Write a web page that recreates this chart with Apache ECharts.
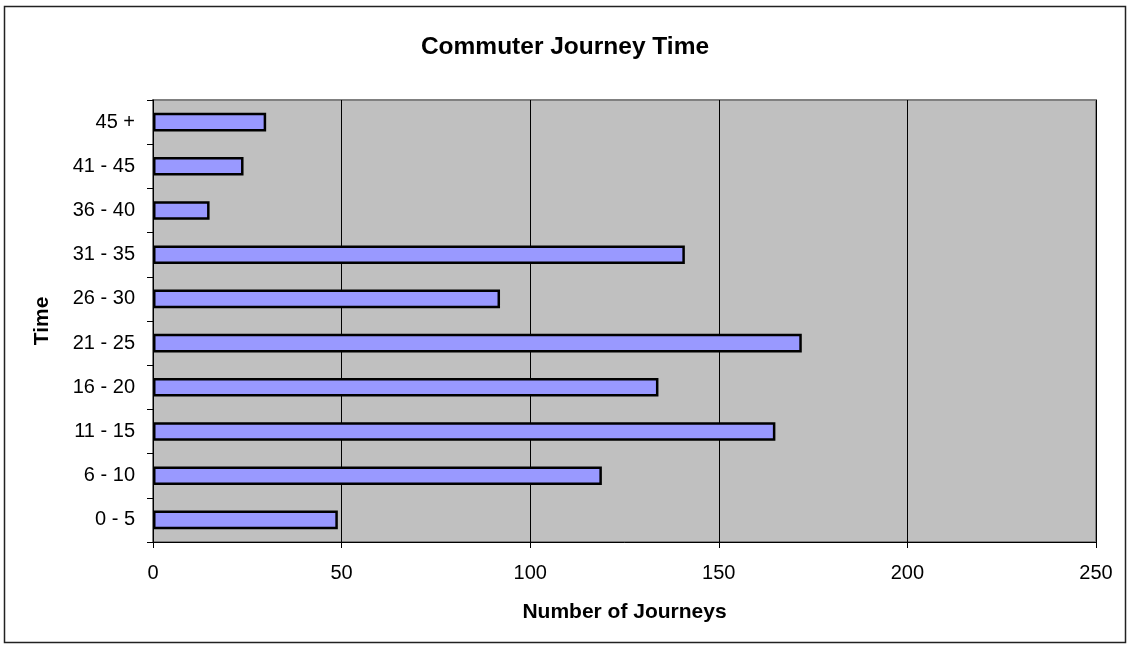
<!DOCTYPE html>
<html>
<head>
<meta charset="utf-8">
<script src="https://cdn.jsdelivr.net/npm/echarts@6/dist/echarts.min.js"></script>
<style>
html, body { margin: 0; padding: 0; background: #fff; }
#chart { width: 1130px; height: 648px; }
</style>
</head>
<body>
<div id="chart"></div>
<script>
// journey time bands, bottom to top
const timeBands = ['0 - 5', '6 - 10', '11 - 15', '16 - 20', '21 - 25', '26 - 30', '31 - 35', '36 - 40', '41 - 45', '45 +'];
const journeys = [49, 119, 165, 134, 172, 92, 141, 15, 24, 30];
const xTicks = { min: 0, max: 250, interval: 50 };

const chart = echarts.init(document.getElementById('chart'));
const font = 'Arial, "Liberation Sans", sans-serif';

chart.setOption({
    animation: false,
    title: {
        text: 'Commuter Journey Time',
        left: 'center',
        top: 30,
        textStyle: { fontFamily: font, fontSize: 24.5, fontWeight: 'bold', color: '#000' }
    },
    graphic: [{
        type: 'rect',
        shape: { x: 4.5, y: 6.5, width: 1121, height: 636 },
        style: { fill: 'none', stroke: '#222', lineWidth: 1.5 },
        z: -1
    }],
    grid: {
        left: 153,
        right: 34,
        top: 100,
        bottom: 106,
        show: true,
        backgroundColor: '#c0c0c0',
        borderColor: '#808080',
        borderWidth: 2
    },
    xAxis: {
        type: 'value',
        min: xTicks.min,
        max: xTicks.max,
        interval: xTicks.interval,
        name: 'Number of Journeys',
        nameLocation: 'middle',
        nameGap: 60,
        nameTextStyle: { fontFamily: font, fontSize: 21, fontWeight: 'bold', color: '#000' },
        axisLine: { show: true, lineStyle: { color: '#000', width: 1 } },
        axisTick: { show: true, length: 6, lineStyle: { color: '#000' } },
        axisLabel: { fontFamily: font, fontSize: 20, color: '#000', margin: 21 },
        splitLine: { show: true, lineStyle: { color: '#000', width: 1 } }
    },
    yAxis: {
        type: 'category',
        data: timeBands,
        name: 'Time',
        nameLocation: 'middle',
        nameGap: 100,
        nameRotate: 90,
        nameTextStyle: { fontFamily: font, fontSize: 21, fontWeight: 'bold', color: '#000' },
        axisLine: { show: true, lineStyle: { color: '#000', width: 1 } },
        axisTick: { show: true, length: 6, lineStyle: { color: '#000' } },
        axisLabel: { fontFamily: font, fontSize: 20, color: '#000', margin: 18 },
        splitLine: { show: false }
    },
    series: [{
        type: 'bar',
        data: journeys,
        barWidth: '42%',
        itemStyle: { color: '#9999ff', borderColor: '#000', borderWidth: 2.5 }
    }]
});
</script>
</body>
</html>
